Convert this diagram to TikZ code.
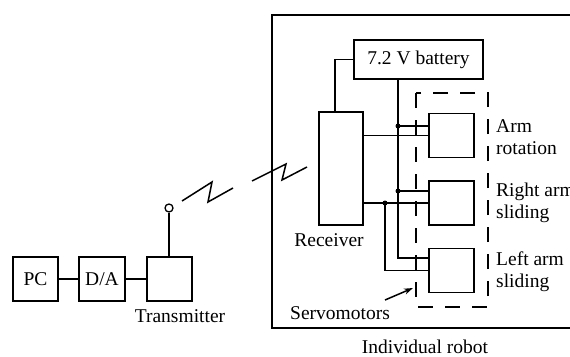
\documentclass[tikz,border=0pt]{standalone}
\usepackage{fontspec}
\setmainfont{Liberation Serif}
\usetikzlibrary{arrows.meta}
\begin{document}
\begin{tikzpicture}[x=1pt,y=-1pt,
  box/.style={draw,line width=1.5pt,minimum width=45pt,minimum height=44pt,inner sep=0pt},
  wire/.style={line width=1.5pt},
  lbl/.style={font=\fontsize{19.5}{22}\selectfont,inner sep=0pt},
  dot/.style={circle,fill,inner sep=0pt,minimum size=5pt}]
\clip (0,0) rectangle (570,356);
\fill[white] (0,0) rectangle (570,356);
% outer robot box
\draw[line width=2pt] (572,15) -- (272,15) -- (272,328) -- (572,328);
\node[lbl] (robot) at (425,347) {Individual robot};
% left chain
\node[box,lbl] (pc) at (35.5,279) {PC};
\node[box,lbl,minimum width=46pt] (da) at (102,279) {D/A};
\node[box] (tx) at (169.5,279) {};
\node[lbl] (txl) at (180,316) {Transmitter};
\draw[wire] (pc) -- (da);
\draw[wire] (da) -- (tx);
\node[circle,draw,line width=1.3pt,minimum size=8pt,inner sep=0pt,fill=white] (ant) at (169,208) {};
\draw[wire] (tx.north -| ant) -- (ant);
% radio zigzags
\draw[wire] (182,201) -- (212,182) -- (208,202) -- (233,188);
\draw[wire] (252,181) -- (286,164) -- (282,180) -- (307,167);
% robot internals
\node[draw,line width=1.5pt,lbl,minimum width=129pt,minimum height=39pt,inner sep=0pt] (bat) at (418.5,59.5) {7.2 V battery};
\node[draw,line width=1.5pt,minimum width=44pt,minimum height=113pt,inner sep=0pt] (rec) at (341,168.5) {};
\node[lbl] (recl) at (329,240) {Receiver};
\node[box] (m1) at (451.5,135.5) {};
\node[box] (m2) at (451.5,203) {};
\node[box] (m3) at (451.5,270.5) {};
\draw[wire] (bat.west) -| ([xshift=-6pt]rec.north);
% power bus
\coordinate (p0) at (398,79);
\draw[wire] (p0) |- ([yshift=12.5pt]m3.west);
\draw[wire] (p0 |- m1.west) ++(0,-9.5) coordinate (pa) -- (pa -| m1.west);
\draw[wire] (p0 |- m2.west) ++(0,-12) coordinate (pb) -- (pb -| m2.west);
\node[dot] at (pa) {};
\node[dot] at (pb) {};
% signal lines
\draw[wire] (rec.east |- m1.west) -- (m1.west);
\draw[wire] (rec.east |- m2.west) -- (m2.west);
\coordinate (sb) at (385,203);
\node[dot] at (sb) {};
\draw[wire] (sb) |- (m3.west);
% dashed servo group
\draw[line width=1.6pt,dash pattern=on 15pt off 12pt] (416,93) rectangle (488,307);
\node[lbl,anchor=west,align=left] (t1) at (496,137) {Arm\\rotation};
\node[lbl,anchor=west,align=left] (t2) at (496,203) {Right arm\\sliding};
\node[lbl,anchor=west,align=left] (t3) at (496,272) {Left arm\\sliding};
\node[lbl] (servo) at (340,313) {Servomotors};
\coordinate (sv) at (413,288);
\draw[line width=1.5pt,-{Stealth[length=9pt,width=6pt]}] (385,300) -- (sv);
\end{tikzpicture}
\end{document}
